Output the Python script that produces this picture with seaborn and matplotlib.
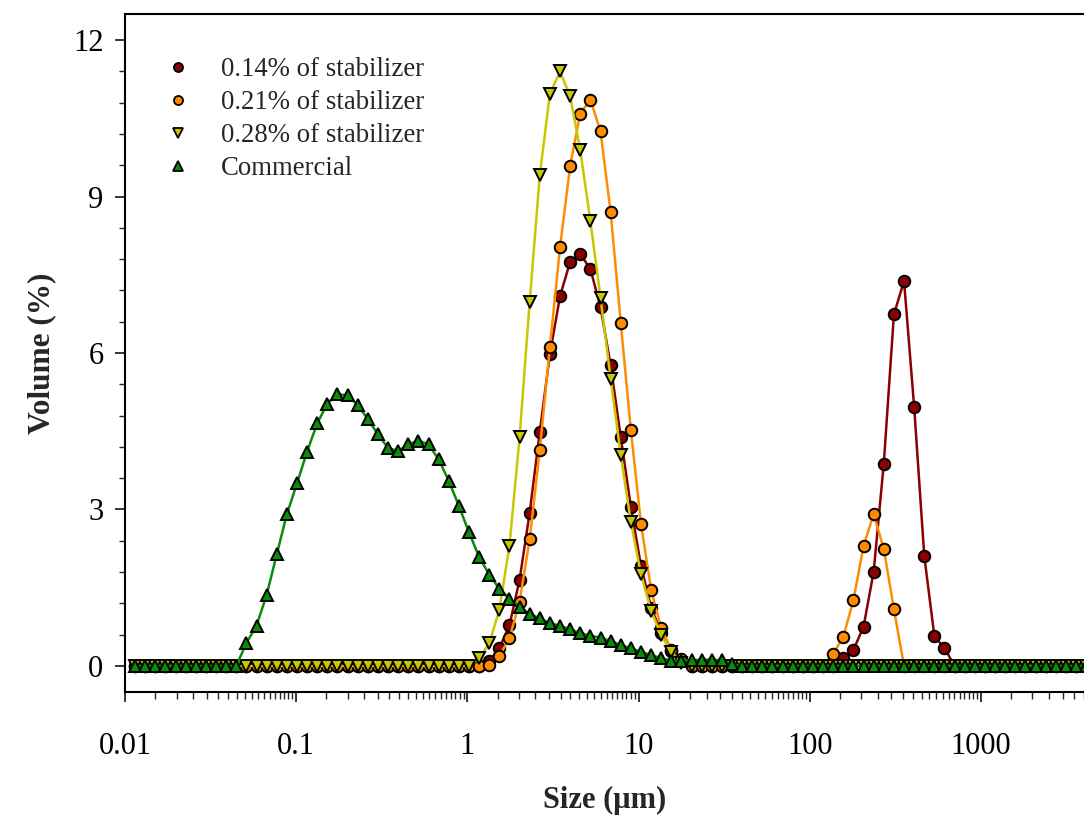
import numpy as np
import matplotlib
matplotlib.use("Agg")
import matplotlib.pyplot as plt
from matplotlib.lines import Line2D
from matplotlib.ticker import LogLocator, FixedLocator, NullFormatter, MultipleLocator
import seaborn as sns

# ---------------- data ----------------
size_um = [
    0.01146, 0.01313, 0.01504, 0.01723, 0.01975, 0.02263, 0.02592, 0.02970, 0.03403, 0.03899,
    0.04468, 0.05119, 0.05865, 0.06720, 0.07700, 0.08823, 0.1011, 0.1158, 0.1327, 0.1521,
    0.1742, 0.1996, 0.2287, 0.2621, 0.3003, 0.3440, 0.3942, 0.4517, 0.5175, 0.5929,
    0.6794, 0.7784, 0.8919, 1.022, 1.171, 1.342, 1.537, 1.761, 2.018, 2.312,
    2.649, 3.035, 3.478, 3.985, 4.566, 5.231, 5.994, 6.868, 7.869, 9.016,
    10.33, 11.84, 13.56, 15.54, 17.80, 20.40, 23.37, 26.78, 30.68, 35.16,
    40.28, 46.15, 52.88, 60.59, 69.42, 79.54, 91.14, 104.4, 119.6, 137.1,
    157.1, 180.0, 206.2, 236.3, 270.7, 310.2, 355.4, 407.2, 466.6, 534.6,
    612.5, 701.8, 804.1, 921.3, 1056, 1209, 1386, 1588, 1819, 2084,
    2388, 2737, 3135, 3593, 4116,
]

stab_014 = ([0.0] * 35 +
            [0.09, 0.34, 0.78, 1.65, 2.94, 4.49, 5.98, 7.09, 7.75, 7.90,
             7.61, 6.88, 5.77, 4.39, 3.05, 1.92, 1.12, 0.64, 0.28, 0.10] +
            [0.0] * 15 +
            [0.15, 0.31, 0.75, 1.81, 3.88, 6.74, 7.38, 4.97, 2.11, 0.57, 0.34] +
            [0.0] * 14)

stab_021 = ([0.0] * 35 +
            [0.02, 0.19, 0.53, 1.23, 2.43, 4.14, 6.12, 8.03, 9.59, 10.59,
             10.86, 10.25, 8.70, 6.58, 4.52, 2.73, 1.46, 0.72, 0.31, 0.13] +
            [0.0] * 14 +
            [0.23, 0.56, 1.26, 2.30, 2.91, 2.24, 1.09] +
            [0.0] * 19)

stab_028 = ([0.0] * 34 +
            [0.15, 0.43, 1.08, 2.30, 4.38, 6.98, 9.41, 10.97, 11.40, 10.92,
             9.89, 8.53, 7.06, 5.51, 4.04, 2.76, 1.76, 1.06, 0.59, 0.27, 0.05] +
            [0.0] * 40)

commercial = ([0.0] * 11 +
              [0.44, 0.77, 1.36, 2.14, 2.91, 3.50, 4.11, 4.65, 5.03, 5.21,
               5.19, 5.00, 4.73, 4.44, 4.18, 4.12, 4.25, 4.32, 4.25, 3.96,
               3.55, 3.07, 2.56, 2.09, 1.75, 1.48, 1.29, 1.13, 1.00, 0.91,
               0.82, 0.77, 0.70, 0.63, 0.58, 0.54, 0.48, 0.40, 0.34, 0.27,
               0.21, 0.15, 0.10, 0.10, 0.11, 0.12, 0.12, 0.11, 0.03] +
              [0.0] * 35)

series_labels = ["0.14% of stabilizer", "0.21% of stabilizer",
                 "0.28% of stabilizer", "Commercial"]
x_tick_values = [0.01, 0.1, 1, 10, 100, 1000]
x_tick_labels = ["0.01", "0.1", "1", "10", "100", "1000"]
y_tick_values = [0, 3, 6, 9, 12]

# ---------------- style ----------------
sns.set_style("ticks")
plt.rcParams["font.family"] = ["Liberation Serif", "DejaVu Serif"]

fig = plt.figure(figsize=(10.84, 8.18), dpi=100)
ax = fig.add_axes([125 / 1084, 1 - 692 / 818, 1 - 125 / 1084, (692 - 14) / 818])

colors = ["#8B0000", "#FF8C00", "#C8C800", "#0A8C0A"]
markers = ["o", "o", "v", "^"]
all_series = [stab_014, stab_021, stab_028, commercial]

for vals, col, mk, lab in zip(all_series, colors, markers, series_labels):
    sns.lineplot(x=size_um, y=vals, ax=ax, color=col, linewidth=1.8,
                 marker=mk, markersize=8.3, markerfacecolor=col,
                 markeredgecolor="black", markeredgewidth=1.4,
                 estimator=None, sort=False, legend=False)

ax.set_xscale("log")
ax.set_xlim(0.01, 4000)
ax.set_ylim(-0.5, 12.5)

ax.xaxis.set_major_locator(FixedLocator(x_tick_values))
ax.set_xticklabels(x_tick_labels)
ax.xaxis.set_minor_locator(LogLocator(base=10, subs=np.arange(1.5, 10, 0.5), numticks=50))
ax.xaxis.set_minor_formatter(NullFormatter())
ax.yaxis.set_major_locator(FixedLocator(y_tick_values))
ax.yaxis.set_minor_locator(MultipleLocator(0.6))

ax.tick_params(axis="both", which="major", direction="out", length=7.5, width=1.1,
               labelsize=22, colors="black", pad=8)
ax.tick_params(axis="x", which="minor", direction="out", length=5.2, width=1.0)
ax.tick_params(axis="y", which="minor", direction="out", length=4.2, width=1.0)
ax.tick_params(axis="x", which="major", pad=21)

for side in ["left", "bottom", "top"]:
    ax.spines[side].set_linewidth(1.5)
    ax.spines[side].set_color("black")
ax.spines["right"].set_visible(False)

ax.set_xlabel("Size (μm)", fontsize=22, fontweight="bold", labelpad=18)
ax.set_ylabel("Volume (%)", fontsize=22.5, fontweight="bold", labelpad=12)

handles = [Line2D([], [], linestyle="none", marker=mk, markersize=6.5,
                  markerfacecolor=col, markeredgecolor="black", markeredgewidth=1.3)
           for col, mk in zip(colors, markers)]
ax.legend(handles, series_labels, loc="upper left", bbox_to_anchor=(0.03, 0.952),
          frameon=False, fontsize=19.3, handlelength=1.0, handletextpad=1.1,
          labelspacing=0.3, borderaxespad=0.0)

fig.savefig("out.png", dpi=100)
